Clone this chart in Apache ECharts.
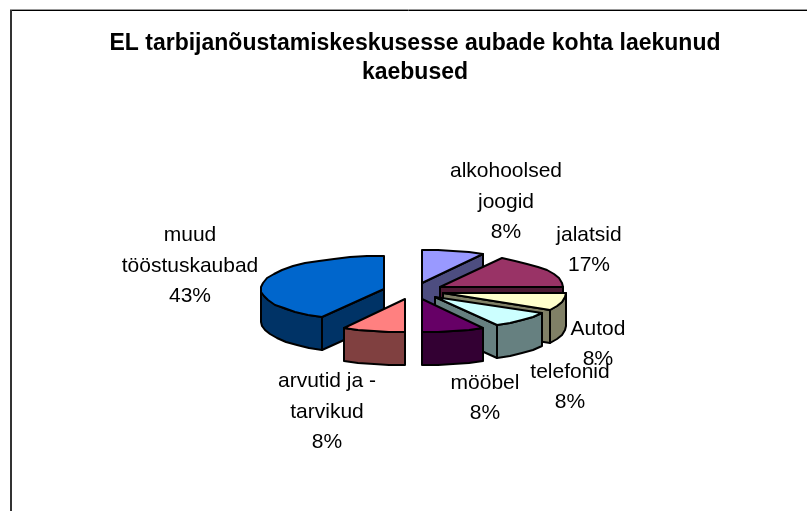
<!DOCTYPE html>
<html>
<head>
<meta charset="utf-8">
<style>html,body{margin:0;padding:0;background:#fff}#c{width:807px;height:511px}</style>
<script src="https://cdn.jsdelivr.net/npm/echarts@6/dist/echarts.min.js"></script>
</head>
<body>
<div id="c"></div>
<script>
// --- data (clockwise from the lower left; later slices are painted over earlier ones)
var titleText = 'EL tarbijanõustamiskeskusesse aubade kohta laekunud\nkaebused';
var categories = ['muud\ntööstuskaubad', 'alkohoolsed\njoogid', 'jalatsid', 'Autod', 'telefonid', 'mööbel', 'arvutid ja -\ntarvikud'];
// wedge sizes (30 degrees = 3 units)
var values = [15, 3, 6, 3, 3, 3, 3];
// percentages as printed on the chart
var percentLabels = ['43%', '8%', '17%', '8%', '8%', '8%', '8%'];
var topColors = ['#0066CC', '#9999FF', '#993366', '#FFFFCC', '#CCFFFF', '#660066', '#FF8080'];
var sideColors = ['#003366', '#4D4D80', '#4D1A33', '#808066', '#668080', '#330033', '#804040'];

// --- layout of the pseudo-3D pie
var cx = 413.5, cy = 291, rx = 123, ry = 33, depth = 33, explode = 31;
var labelCentres = [[190, 266], [506, 202], [589, 250], [598, 344], [570, 387], [485, 398], [327, 412]];
var labelLine = 30.5;

var total = values.reduce(function (a, b) { return a + b; }, 0);
var firstAngle = -values[0] / total * 360;
var rad = Math.PI / 180;

function pt(o, deg, dy) {
  return [Math.round(o[0] + rx * Math.sin(deg * rad)), Math.round(o[1] - ry * Math.cos(deg * rad) + (dy || 0))];
}
function arc(o, a, b, dy) {
  var out = [], step = 8, n = Math.max(1, Math.round((b - a) / step));
  for (var i = 0; i <= n; i++) out.push(pt(o, a + (b - a) * i / n, dy));
  return out;
}
function poly(points, fill, z) {
  return {
    type: 'polygon', z2: z,
    shape: { points: points },
    style: { fill: fill, stroke: '#000', lineWidth: 2, lineJoin: 'round' }
  };
}
function renderSlice(params, api) {
  var idx = params.dataIndex, before = 0;
  for (var i = 0; i < idx; i++) before += values[i];
  var v = api.value(0);
  var a = firstAngle + before / total * 360, b = a + v / total * 360;
  var mid = (a + b) / 2;
  var o = [cx + explode * Math.sin(mid * rad), cy - explode * (ry / rx) * Math.cos(mid * rad)];
  var ox = Math.round(o[0]), oy = Math.round(o[1]);
  var z = idx * 10, kids = [], side = sideColors[idx];
  var norm = function (d) { return ((d % 360) + 360) % 360; };
  // radial walls that face the viewer
  if (Math.sin(b * rad) > 0.02) {
    var pb = pt(o, b);
    kids.push(poly([[ox, oy], pb, [pb[0], pb[1] + depth], [ox, oy + depth]], side, z));
  }
  if (Math.sin(a * rad) < -0.02) {
    var pa = pt(o, a);
    kids.push(poly([[ox, oy], pa, [pa[0], pa[1] + depth], [ox, oy + depth]], side, z));
  }
  // outer wall: only the part of the arc between 90 and 270 degrees
  var na = norm(a), nb = na + (b - a);
  var wa = Math.max(na, 90), wb = Math.min(nb, 270);
  if (wb > wa) {
    kids.push(poly(arc(o, wa, wb).concat(arc(o, wa, wb, depth).reverse()), side, z + 1));
  }
  // top face
  kids.push(poly([[ox, oy]].concat(arc(o, a, b)), topColors[idx], z + 2));
  return { type: 'group', children: kids };
}
function renderLabel(params, api) {
  var idx = params.dataIndex;
  var c = labelCentres[idx];
  return {
    type: 'text', z2: 200,
    style: {
      x: c[0], y: c[1],
      text: categories[idx] + '\n' + percentLabels[idx],
      font: '21px "Liberation Sans", Arial, sans-serif',
      lineHeight: labelLine, fill: '#000', align: 'center', verticalAlign: 'middle'
    }
  };
}
var chart = echarts.init(document.getElementById('c'), null, { renderer: 'canvas' });
chart.setOption({
  animation: false,
  backgroundColor: '#fff',
  title: {
    text: titleText, left: 410, top: 24, textAlign: 'center',
    textStyle: { fontFamily: '"Liberation Sans", Arial, sans-serif', fontWeight: 'bold', fontSize: 23, lineHeight: 29, color: '#000' }
  },
  graphic: [
    { type: 'line', shape: { x1: 10, y1: 9.5, x2: 807, y2: 9.5 }, style: { stroke: '#999', lineWidth: 1 } },
    { type: 'line', shape: { x1: 10, y1: 10.5, x2: 807, y2: 10.5 }, style: { stroke: '#000', lineWidth: 1 } },
    { type: 'line', shape: { x1: 11, y1: 10, x2: 11, y2: 511 }, style: { stroke: '#333', lineWidth: 2 } }
  ],
  series: [
    { type: 'custom', coordinateSystem: 'none', renderItem: renderSlice, data: values.map(function (v) { return [v]; }), silent: true },
    { type: 'custom', coordinateSystem: 'none', renderItem: renderLabel, data: values.map(function (v) { return [v]; }), silent: true, z: 5 }
  ]
});
</script>
</body>
</html>
